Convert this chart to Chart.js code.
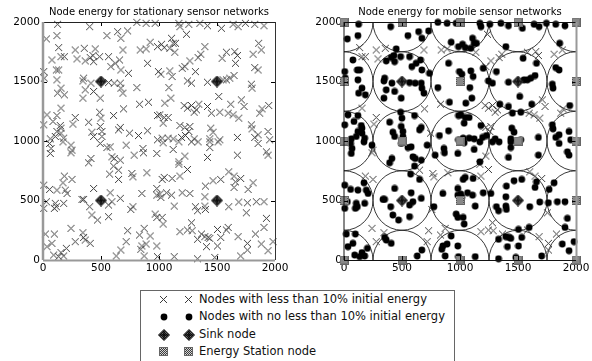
<!DOCTYPE html>
<html><head><meta charset="utf-8">
<script src="https://cdn.jsdelivr.net/npm/chart.js@4.4.1/dist/chart.umd.min.js"></script>
<style>
html,body{margin:0;padding:0;background:#fff;}
body{width:592px;height:361px;position:relative;overflow:hidden;font-family:"DejaVu Sans",sans-serif;}
canvas.ch{position:absolute;top:0;}
#legend{position:absolute;left:140px;top:290px;width:315px;height:72px;border:1px solid #666;box-sizing:border-box;background:#fff;}
.row{position:absolute;left:0;width:100%;height:17px;}
.row canvas{position:absolute;top:0;}
.row span{position:absolute;left:58px;top:0;line-height:17px;font-size:11.5px;color:#111;white-space:nowrap;}
</style></head><body>
<canvas id="left" class="ch" width="296" height="280" style="left:0"></canvas>
<canvas id="right" class="ch" width="296" height="280" style="left:296px"></canvas>
<div id="legend"></div>
<script>
// ---------- data ----------
const tickValues = [0, 500, 1000, 1500, 2000];
const axisMin = 0, axisMax = 2000;
const coverageRadius = 250;
const titles = ['Node energy for stationary sensor networks', 'Node energy for mobile sensor networks'];
const legendLabels = ['Nodes with less than 10% initial energy', 'Nodes with no less than 10% initial energy', 'Sink node', 'Energy Station node'];
const sinkNodes = [[500,500],[1500,500],[500,1500],[1500,1500]];
const energyStations = [[0,0],[500,0],[1000,0],[1500,0],[2000,0],[0,500],[1000,500],[2000,500],[0,1000],[500,1000],[1000,1000],[1500,1000],[2000,1000],[0,1500],[1000,1500],[2000,1500],[0,2000],[500,2000],[1000,2000],[1500,2000],[2000,2000]];
const nodesNW = [[126,1981],[402,1961],[29,1858],[120,1886],[551,1886],[643,1919],[729,1925],[671,1863],[809,1997],[889,1989],[967,1989],[924,1830],[987,1793],[838,1765],[889,1774],[135,1785],[278,1765],[356,1779],[450,1774],[77,1681],[155,1709],[184,1709],[293,1690],[364,1673],[407,1701],[430,1718],[488,1709],[565,1709],[660,1681],[689,1765],[585,1625],[622,1653],[436,1667],[901,1653],[671,1597],[737,1569],[995,1583],[6,1583],[11,1528],[115,1597],[135,1597],[120,1514],[350,1528],[344,1505],[413,1486],[565,1491],[614,1486],[666,1486],[671,1444],[689,1402],[809,1449],[155,1444],[126,1402],[184,1388],[364,1430],[344,1360],[436,1416],[493,1360],[832,1309],[909,1326],[155,1276],[694,1270],[34,1220],[120,1214],[6,1136],[86,1164],[149,1130],[155,1108],[120,1080],[155,1066],[106,1038],[63,1018],[178,1024],[278,1198],[258,1142],[393,1158],[488,1242],[499,1192],[493,1122],[508,1080],[421,1074],[436,1038],[508,1038],[608,1214],[666,1114],[651,1094],[746,1066],[823,1046],[901,1086],[987,1214],[987,1010]];
const nodesNE = [[1171,1989],[1180,1961],[1257,1981],[1352,1989],[1418,1969],[1538,1947],[1639,1981],[1682,1961],[1745,1989],[1825,1981],[1905,1969],[1237,1897],[1108,1863],[1122,1821],[1142,1821],[1022,1813],[1045,1785],[1093,1779],[1136,1746],[1395,1793],[1360,1729],[1337,1701],[1266,1673],[1200,1611],[1223,1625],[1093,1589],[1113,1542],[1016,1561],[1314,1583],[1581,1746],[1544,1695],[1653,1751],[1676,1718],[1659,1653],[1811,1729],[1859,1821],[1882,1765],[1825,1617],[1854,1597],[1647,1550],[1610,1528],[1581,1514],[1552,1514],[1418,1494],[1245,1505],[1280,1486],[1085,1449],[1796,1477],[1802,1444],[1515,1374],[1050,1318],[1102,1360],[1007,1220],[1045,1198],[1079,1198],[1036,1150],[1217,1298],[1245,1276],[1280,1298],[1323,1262],[1303,1242],[1343,1309],[1418,1290],[1452,1234],[1524,1242],[1618,1309],[1596,1234],[1639,1220],[1688,1192],[1710,1346],[1733,1290],[1868,1234],[1888,1270],[1946,1298],[1180,1130],[1223,1114],[1266,1122],[1257,1080],[1446,1108],[1466,1074],[1796,1136],[1802,1102],[1940,1080],[1854,1052],[1825,1030],[1027,1024],[1079,1024],[1122,1018],[1194,1030],[1228,1046],[1303,1018],[1438,1018],[1524,1010],[1676,1030],[1954,1010]];
const nodesSW = [[57,979],[69,937],[63,895],[172,993],[241,965],[250,923],[241,901],[493,979],[551,945],[579,951],[717,965],[786,881],[861,937],[866,901],[981,895],[413,853],[393,817],[594,867],[614,853],[666,839],[608,789],[651,755],[574,722],[651,677],[766,727],[775,699],[895,733],[184,705],[250,677],[172,649],[6,629],[57,593],[120,587],[192,587],[207,559],[436,601],[579,565],[666,518],[594,490],[565,462],[336,509],[350,509],[106,476],[98,434],[115,448],[178,476],[29,490],[6,434],[402,448],[421,378],[470,336],[565,364],[852,559],[981,601],[981,545],[775,448],[757,425],[967,386],[981,358],[20,218],[98,218],[34,112],[77,140],[241,266],[344,229],[350,190],[364,168],[278,154],[407,140],[201,98],[155,62],[178,34],[135,28],[92,42],[729,246],[717,154],[671,84],[631,34],[832,210],[872,266],[924,202],[852,118],[889,134],[843,90],[872,34],[987,28],[981,118]];
const nodesSE = [[1036,985],[1122,929],[1171,993],[1280,993],[1337,993],[1438,993],[1509,993],[1438,945],[1854,979],[1926,909],[1940,881],[1223,873],[1171,825],[1171,805],[1418,862],[1676,881],[1245,761],[1027,677],[1045,694],[1113,685],[1180,705],[1400,621],[1466,666],[1532,677],[1601,741],[1647,705],[1659,657],[1647,610],[1704,685],[1811,649],[1768,593],[1007,554],[1016,526],[1065,565],[1108,545],[1200,565],[1266,559],[1395,531],[1131,453],[1314,448],[1332,414],[1395,453],[1400,425],[1601,448],[1687,487],[1762,481],[1839,490],[1905,490],[1753,397],[1027,358],[1036,302],[1280,313],[1180,238],[1245,252],[1286,246],[1366,218],[1395,196],[1423,190],[1438,182],[1332,174],[1504,257],[1532,190],[1581,252],[1596,274],[1682,196],[1504,118],[1409,112],[1926,350],[1905,274],[1831,218],[1882,134],[1983,154],[1940,78],[1762,140],[1762,84],[1704,34],[1131,28],[1332,10],[1481,22]];

// ---------- derived ----------
const allNodes = nodesNW.concat(nodesNE, nodesSW, nodesSE);
const toPts = a => a.map(([x, y]) => ({x, y}));
const coverageCenters = energyStations.concat(sinkNodes);
const covered = ([x, y]) => coverageCenters.some(([cx, cy]) => Math.hypot(x - cx, y - cy) <= coverageRadius);
const mobileHigh = allNodes.filter(covered);
const mobileLow = allNodes.filter(p => !covered(p));

// ---------- marker images ----------
function mk(size, draw){const c=document.createElement('canvas');c.width=size;c.height=size;draw(c.getContext('2d'));return c;}
function checker(g,a,b){const p=document.createElement('canvas');p.width=2;p.height=2;const q=p.getContext('2d');q.fillStyle=a;q.fillRect(0,0,2,2);q.fillStyle=b;q.fillRect(0,0,1,1);q.fillRect(1,1,1,1);return g.createPattern(p,'repeat');}
const imgCross = mk(9, g=>{g.strokeStyle='#3a3a3a';g.lineWidth=1;g.beginPath();g.moveTo(1,1);g.lineTo(8,8);g.moveTo(8,1);g.lineTo(1,8);g.stroke();});
const imgDot = mk(8, g=>{g.fillStyle='#000';g.beginPath();g.arc(4,4,3.4,0,Math.PI*2);g.fill();});
const imgSink = mk(12, g=>{g.beginPath();g.moveTo(6,0.5);g.lineTo(11.5,6);g.lineTo(6,11.5);g.lineTo(0.5,6);g.closePath();g.fillStyle=checker(g,'#111','#666');g.fill();g.strokeStyle='#111';g.lineWidth=1;g.stroke();g.beginPath();g.moveTo(6,2);g.lineTo(6,10);g.moveTo(2,6);g.lineTo(10,6);g.strokeStyle='#000';g.stroke();});
const imgStation = mk(9, g=>{g.fillStyle=checker(g,'#3c3c3c','#d4d4d4');g.fillRect(0.5,0.5,8,8);g.strokeStyle='#666';g.lineWidth=1;g.strokeRect(0.5,0.5,8,8);});

// ---------- plugins ----------
const framePlugin = {
  id: 'frame',
  afterDatasetsDraw(chart, args, o) {
    const {ctx, chartArea: a, scales: {x, y}} = chart;
    ctx.save();
    ctx.strokeStyle = '#000'; ctx.lineWidth = 1;
    ctx.beginPath();
    tickValues.forEach(v => {
      const px = Math.round(x.getPixelForValue(v)) + 0.5;
      const py = Math.round(y.getPixelForValue(v)) + 0.5;
      ctx.moveTo(px, a.bottom); ctx.lineTo(px, a.bottom - 4);
      ctx.moveTo(px, a.top); ctx.lineTo(px, a.top + 4);
      ctx.moveTo(a.left, py); ctx.lineTo(a.left + 4, py);
      ctx.moveTo(a.right, py); ctx.lineTo(a.right - 4, py);
    });
    ctx.stroke();
    const side = (s, x1, y1, x2, y2) => { ctx.beginPath(); ctx.strokeStyle = s.c; ctx.lineWidth = s.w; ctx.moveTo(x1, y1); ctx.lineTo(x2, y2); ctx.stroke(); };
    side(o.top, a.left, a.top + 0.5, a.right, a.top + 0.5);
    side(o.right, a.right + 0.5, a.top, a.right + 0.5, a.bottom);
    side(o.bottom, a.left, a.bottom + 0.5, a.right, a.bottom + 0.5);
    side(o.left, a.left, a.top, a.left, a.bottom);
    ctx.restore();
  }
};
const circlePlugin = {
  id: 'coverage',
  beforeDatasetsDraw(chart) {
    const {ctx, chartArea: a, scales: {x, y}} = chart;
    ctx.save();
    ctx.beginPath(); ctx.rect(a.left, a.top, a.right - a.left, a.bottom - a.top); ctx.clip();
    ctx.strokeStyle = '#222'; ctx.lineWidth = 0.9;
    coverageCenters.forEach(([cx, cy]) => {
      const px = x.getPixelForValue(cx), py = y.getPixelForValue(cy);
      const rx = Math.abs(x.getPixelForValue(cx + coverageRadius) - px);
      const ry = Math.abs(y.getPixelForValue(cy + coverageRadius) - py);
      ctx.beginPath(); ctx.ellipse(px, py, rx, ry, 0, 0, Math.PI * 2); ctx.stroke();
    });
    ctx.restore();
  }
};

function ds(points, img) {
  return {data: toPts(points), pointStyle: img, pointRadius: 5, showLine: false, clip: false};
}
const tickFont = {family: 'DejaVu Sans', size: 10.5};
function makeChart(id, datasets, title, yWidth, yPad, rightPad, frame, plugins) {
  return new Chart(document.getElementById(id), {
    type: 'scatter',
    data: {datasets},
    options: {
      responsive: false, animation: false, events: [],
      layout: {padding: {left: 0, right: rightPad, top: 0, bottom: 0}},
      plugins: {
        legend: {display: false}, tooltip: {enabled: false},
        title: {display: true, text: title, fullSize: false, color: '#000',
                font: {family: 'DejaVu Sans', size: 10, weight: 'normal'}, padding: {top: 6, bottom: 4}},
        frame
      },
      scales: {
        x: {type: 'linear', min: axisMin, max: axisMax,
            afterBuildTicks: s => { s.ticks = tickValues.map(v => ({value: v})); },
            ticks: {autoSkip: false, maxRotation: 0, padding: 2, color: '#000', font: tickFont, callback: v => String(v)},
            grid: {display: false, drawTicks: false}, border: {display: false},
            afterFit: s => { s.height = 20; }},
        y: {type: 'linear', min: axisMin, max: axisMax,
            afterBuildTicks: s => { s.ticks = tickValues.map(v => ({value: v})); },
            ticks: {autoSkip: false, padding: yPad, color: '#000', font: tickFont, callback: v => String(v)},
            grid: {display: false, drawTicks: false}, border: {display: false},
            afterFit: s => { s.width = yWidth; }}
      }
    },
    plugins
  });
}

makeChart('left', [ds(sinkNodes, imgSink), ds(allNodes, imgCross)], titles[0], 43, 3, 21,
  {top: {c: '#222', w: 1}, right: {c: '#333', w: 1}, bottom: {c: '#999', w: 2}, left: {c: '#999', w: 2.5}},
  [framePlugin]);
makeChart('right', [ds(sinkNodes, imgSink), ds(energyStations, imgStation), ds(mobileHigh, imgDot), ds(mobileLow, imgCross)], titles[1], 48, 2, 16,
  {top: {c: '#111', w: 1}, right: {c: '#999', w: 2}, bottom: {c: '#111', w: 1}, left: {c: '#111', w: 1}},
  [circlePlugin, framePlugin]);

// ---------- legend ----------
const legendImgs = [imgCross, imgDot, imgSink, imgStation];
const rowTops = [0, 17, 35, 52];
const lg = document.getElementById('legend');
legendLabels.forEach((label, i) => {
  const row = document.createElement('div'); row.className = 'row'; row.style.top = rowTops[i] + 'px';
  [14, 39].forEach(lx => {
    const c = document.createElement('canvas'); c.width = 17; c.height = 17; c.style.left = lx + 'px';
    const img = legendImgs[i];
    c.getContext('2d').drawImage(img, Math.round((17 - img.width) / 2), Math.round((17 - img.height) / 2));
    row.appendChild(c);
  });
  const sp = document.createElement('span'); sp.textContent = label; row.appendChild(sp);
  lg.appendChild(row);
});
</script></body></html>
